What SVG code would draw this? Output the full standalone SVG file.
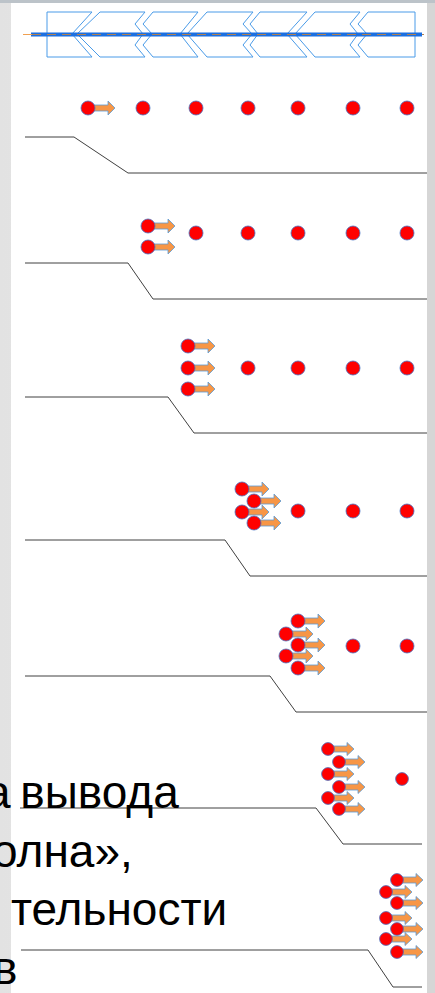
<svg xmlns="http://www.w3.org/2000/svg" xmlns:xlink="http://www.w3.org/1999/xlink" width="435" height="993" viewBox="0 0 435 993">
<style>
.step{fill:none;stroke:#404040;stroke-width:1}
.dot{fill:#ff0000;stroke:#4472c4;stroke-width:0.8}
.arr{fill:#f79646;stroke:#5b9bd5;stroke-width:0.8}
.chev{fill:#ffffff;stroke:#4a9be8;stroke-width:1}
.txt{font-family:"Liberation Sans",Arial,sans-serif;font-size:46px;fill:#000}
</style>
<defs>
<linearGradient id="lg" x1="0" y1="0" x2="1" y2="0">
<stop offset="0" stop-color="#e2e2e2"/><stop offset="1" stop-color="#efefef"/>
</linearGradient>
<g id="ad"><path class="arr" d="M0,-3 H20 V-7 L27,0 L20,7 V3 H0 Z"/><circle class="dot" r="7"/></g>
<g id="ads"><path class="arr" d="M0,-3 H19 V-6.5 L26,0 L19,6.5 V3 H0 Z"/><circle class="dot" r="6.4"/></g>
<circle id="d" class="dot" r="7"/>
</defs>
<rect x="0" y="0" width="435" height="993" fill="url(#lg)"/>
<rect x="427" y="0" width="8" height="993" fill="#d6d6d6"/>
<rect x="0" y="0" width="435" height="3" fill="#bcc3c9"/>
<rect x="11" y="3" width="416" height="990" fill="#ffffff"/>

<g id="top-arrow">
<path class="chev" d="M47,12 H92 L72,34 L92,57 H47 Z"/>
<path class="chev" d="M100,12 H145 L135,24 L143,34 L135,45 L145,57 H100 L77,34 Z"/>
<path class="chev" d="M153,12 H198 L180,34 L198,57 H153 L143,45 L152,34 L143,24 Z"/>
<path class="chev" d="M207,12 H253 L243,24 L252,34 L243,45 L253,57 H207 L187,34 Z"/>
<path class="chev" d="M260,12 H307 L287,34 L307,57 H260 L250,45 L258,34 L250,24 Z"/>
<path class="chev" d="M315,12 H360 L350,24 L358,34 L350,45 L360,57 H315 L295,34 Z"/>
<path class="chev" d="M368,12 H415 V57 H368 L358,45 L367,34 L358,24 Z"/>
<line x1="31" y1="34.5" x2="422" y2="34.5" stroke="#1c6fe0" stroke-width="4"/>
<line x1="23" y1="34.5" x2="32" y2="34.5" stroke="#f0a050" stroke-width="1"/>
<line x1="32" y1="34.5" x2="424" y2="34.5" stroke="#b08050" stroke-width="1" stroke-dasharray="9 6"/>
</g>

<g id="connectors">
<polyline class="step" points="25,137 74,137 128,173 427,173"/>
<polyline class="step" points="25,263 128,263 153,299 427,299"/>
<polyline class="step" points="25,397 168,397 194,433 427,433"/>
<polyline class="step" points="25,540 225,540 250,576 427,576"/>
<polyline class="step" points="25,676 270,676 296,712 427,712"/>
<polyline class="step" points="20,808 316,808 343,844 422,844"/>
<polyline class="step" points="21,950 368,950 393,987 422,987"/>
</g>

<g id="row1">
<use xlink:href="#ad" x="88" y="108"/>
<use xlink:href="#d" x="143" y="108"/><use xlink:href="#d" x="196" y="108"/><use xlink:href="#d" x="248" y="108"/>
<use xlink:href="#d" x="298" y="108"/><use xlink:href="#d" x="353" y="108"/><use xlink:href="#d" x="407" y="108"/>
</g>
<g id="row2">
<use xlink:href="#ad" x="148" y="226"/><use xlink:href="#ad" x="148" y="247"/>
<use xlink:href="#d" x="196" y="233"/><use xlink:href="#d" x="248" y="233"/>
<use xlink:href="#d" x="298" y="233"/><use xlink:href="#d" x="353" y="233"/><use xlink:href="#d" x="407" y="233"/>
</g>
<g id="row3">
<use xlink:href="#ad" x="188" y="346"/><use xlink:href="#ad" x="188" y="368"/><use xlink:href="#ad" x="188" y="389"/>
<use xlink:href="#d" x="248" y="368"/><use xlink:href="#d" x="298" y="368"/><use xlink:href="#d" x="353" y="368"/><use xlink:href="#d" x="407" y="368"/>
</g>
<g id="row4">
<use xlink:href="#ad" x="242" y="489"/><use xlink:href="#ad" x="254" y="501"/>
<use xlink:href="#ad" x="242" y="512"/><use xlink:href="#ad" x="254" y="523"/>
<use xlink:href="#d" x="298" y="511"/><use xlink:href="#d" x="353" y="511"/><use xlink:href="#d" x="407" y="511"/>
</g>
<g id="row5">
<use xlink:href="#ad" x="298" y="621"/><use xlink:href="#ad" x="286" y="634"/>
<use xlink:href="#ad" x="298" y="645"/><use xlink:href="#ad" x="286" y="656"/>
<use xlink:href="#ad" x="298" y="668"/>
<use xlink:href="#d" x="353" y="646"/><use xlink:href="#d" x="407" y="646"/>
</g>
<g id="row6">
<use xlink:href="#ads" x="328" y="749"/><use xlink:href="#ads" x="339" y="762"/>
<use xlink:href="#ads" x="328" y="774"/><use xlink:href="#ads" x="339" y="787"/>
<use xlink:href="#ads" x="328" y="798"/><use xlink:href="#ads" x="339" y="809"/>
<circle class="dot" cx="402" cy="779" r="6.4"/>
</g>
<g id="row7">
<use xlink:href="#ads" x="397" y="880"/><use xlink:href="#ads" x="386" y="892"/>
<use xlink:href="#ads" x="397" y="903"/><use xlink:href="#ads" x="386" y="918"/>
<use xlink:href="#ads" x="397" y="929"/><use xlink:href="#ads" x="386" y="939"/>
<use xlink:href="#ads" x="397" y="952"/>
</g>

<g id="caption" class="txt">
<text x="-15" y="808" word-spacing="-3">а вывода</text>
<text x="-8" y="867">олна»,</text>
<text x="11" y="925">тельности</text>
<text x="-7" y="984">в</text>
</g>
</svg>
